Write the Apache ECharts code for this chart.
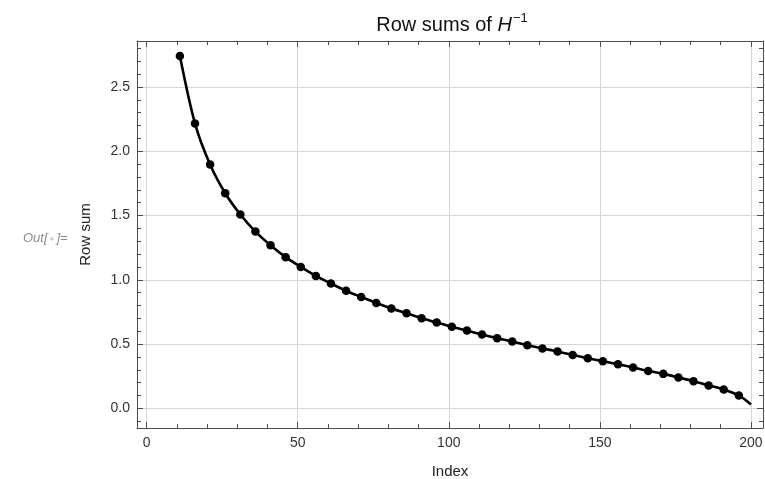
<!DOCTYPE html>
<html>
<head>
<meta charset="utf-8">
<script src="https://cdn.jsdelivr.net/npm/echarts@6/dist/echarts.min.js"></script>
<style>
  html, body { margin: 0; padding: 0; background: #fff; }
  #chart { width: 765px; height: 479px; }
</style>
</head>
<body>
<div id="chart"></div>
<script>
// ---- data ----
const indices = [11, 16, 21, 26, 31, 36, 41, 46, 51, 56, 61, 66, 71, 76, 81, 86, 91, 96, 101, 106,
                 111, 116, 121, 126, 131, 136, 141, 146, 151, 156, 161, 166, 171, 176, 181, 186, 191, 196];
const rowSums = [2.742, 2.216, 1.897, 1.674, 1.509, 1.376, 1.270, 1.177, 1.101, 1.031,
                 0.972, 0.915, 0.867, 0.820, 0.778, 0.741, 0.702, 0.669, 0.635, 0.606,
                 0.575, 0.547, 0.521, 0.492, 0.467, 0.443, 0.415, 0.391, 0.368, 0.344,
                 0.319, 0.292, 0.269, 0.241, 0.212, 0.179, 0.148, 0.101];
const lineEndIndex = 200;
const lineEndValue = 0.031;
const xRange = [-3.2, 204];
const yRange = [-0.152, 2.858];

const FONT = 'Liberation Sans, Arial, Helvetica, sans-serif';
const points = indices.map((x, i) => [x, rowSums[i]]);
const curve = points.concat([[lineEndIndex, lineEndValue]]);

const gridRect = { left: 137, right: 2, top: 41, bottom: 51 };
const frameColor = '#4d4d4d';
const labelColor = '#333';

function majorX(pos, withLabels) {
  return {
    type: 'value', gridIndex: 0, position: pos, min: xRange[0], max: xRange[1], splitNumber: 4,
    axisLine: { show: true, onZero: false, lineStyle: { color: frameColor, width: 1 } },
    axisTick: { show: true, inside: true, length: 6, lineStyle: { color: frameColor } },
    axisLabel: { show: withLabels, showMinLabel: false, showMaxLabel: false, margin: 8,
      color: labelColor, fontSize: 14, fontFamily: FONT, formatter: v => String(Math.round(v)) },
    splitLine: { show: withLabels, lineStyle: { color: '#d6d6d6', width: 1 } },
    name: withLabels ? 'Index' : '', nameLocation: 'middle', nameGap: 36,
    nameTextStyle: { color: '#222', fontSize: 15, fontFamily: FONT }
  };
}
function majorY(pos, withLabels) {
  return {
    type: 'value', gridIndex: 0, position: pos, min: yRange[0], max: yRange[1], splitNumber: 6,
    axisLine: { show: true, onZero: false, lineStyle: { color: frameColor, width: 1 } },
    axisTick: { show: true, inside: true, length: 6, lineStyle: { color: frameColor } },
    axisLabel: { show: withLabels, showMinLabel: false, showMaxLabel: false, margin: 7,
      color: labelColor, fontSize: 14, fontFamily: FONT, formatter: v => v.toFixed(1) },
    splitLine: { show: withLabels, lineStyle: { color: '#d6d6d6', width: 1 } },
    name: withLabels ? 'Row sum' : '', nameLocation: 'middle', nameGap: 44, nameRotate: 90,
    nameTextStyle: { color: '#222', fontSize: 15, fontFamily: FONT }
  };
}
function minorX(pos) {
  return {
    type: 'value', gridIndex: 1, position: pos, min: xRange[0], max: xRange[1], splitNumber: 20,
    axisLine: { show: false, onZero: false },
    axisTick: { show: true, inside: true, length: 4, lineStyle: { color: frameColor } },
    axisLabel: { show: false }, splitLine: { show: false }
  };
}
function minorY(pos) {
  return {
    type: 'value', gridIndex: 1, position: pos, min: yRange[0], max: yRange[1], splitNumber: 30,
    axisLine: { show: false, onZero: false },
    axisTick: { show: true, inside: true, length: 4, lineStyle: { color: frameColor } },
    axisLabel: { show: false }, splitLine: { show: false }
  };
}

const chart = echarts.init(document.getElementById('chart'), null, { renderer: 'canvas' });
chart.setOption({
  animation: false,
  backgroundColor: '#fff',
  title: {
    text: 'Row sums of {i|H}{s|\u22121}',
    left: 447, top: 7, textAlign: 'center',
    textStyle: {
      color: '#111', fontSize: 20, fontWeight: 'normal', fontFamily: FONT,
      rich: {
        i: { fontSize: 20, fontStyle: 'italic', fontFamily: FONT, color: '#111' },
        s: { fontSize: 13, fontFamily: FONT, color: '#111', verticalAlign: 'top', padding: [0, 0, 14, 1] }
      }
    }
  },
  graphic: [{
    type: 'text', left: 23, top: 232,
    style: {
      text: 'Out[{d|\u25CF}]=', fill: '#8c8c8c', fontSize: 13, fontStyle: 'italic', fontFamily: FONT,
      rich: { d: { fontSize: 8, fill: '#cfcfcf', color: '#cfcfcf', fontFamily: FONT, padding: [0, 2, 0, 2] } }
    }
  }],
  grid: [
    Object.assign({ containLabel: false, outerBoundsMode: 'none' }, gridRect),
    Object.assign({ containLabel: false, outerBoundsMode: 'none' }, gridRect)
  ],
  xAxis: [majorX('bottom', true), majorX('top', false), minorX('bottom'), minorX('top')],
  yAxis: [majorY('left', true), majorY('right', false), minorY('left'), minorY('right')],
  series: [
    {
      type: 'line', xAxisIndex: 0, yAxisIndex: 0, data: curve, smooth: 0.3,
      showSymbol: false, symbol: 'none',
      lineStyle: { color: '#000', width: 2.6 }, z: 3
    },
    {
      type: 'scatter', xAxisIndex: 0, yAxisIndex: 0, data: points,
      symbol: 'circle', symbolSize: 8.5, itemStyle: { color: '#000', opacity: 1 }, z: 4
    }
  ]
});
</script>
</body>
</html>
